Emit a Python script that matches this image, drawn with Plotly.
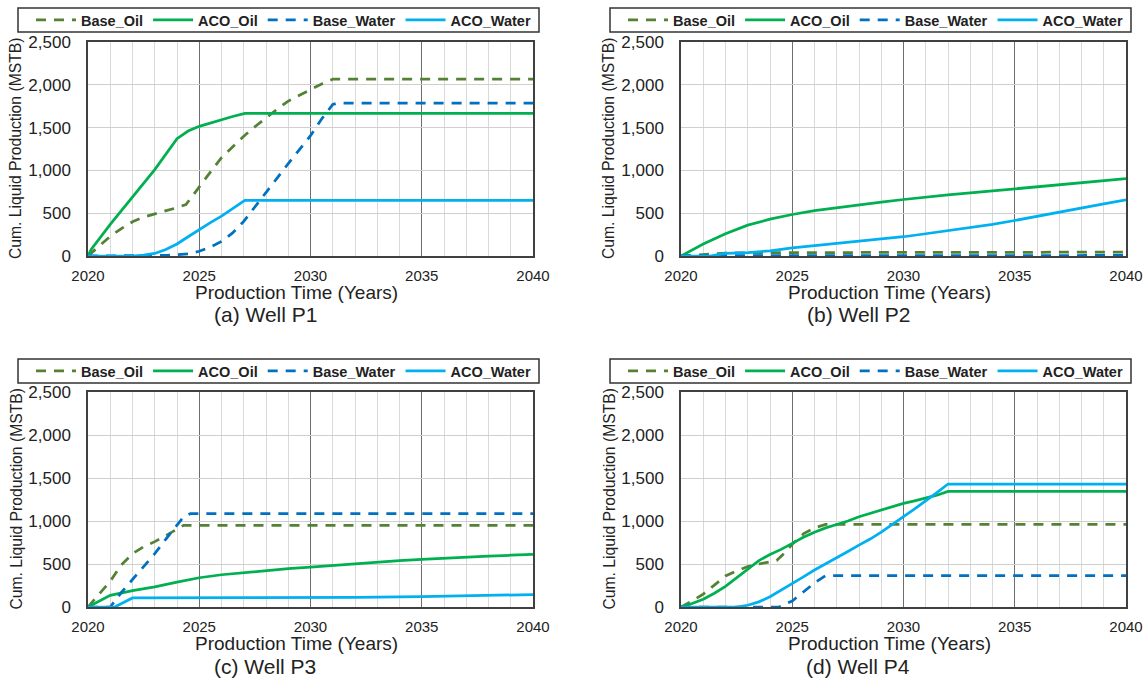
import plotly.graph_objects as go

W, H = 1148, 678

# ---------------- data (years, MSTB) ----------------
series_names = ["Base_Oil", "ACO_Oil", "Base_Water", "ACO_Water"]
panel_captions = ["(a) Well P1", "(b) Well P2", "(c) Well P3", "(d) Well P4"]
y_title = "Cum. Liquid Production (MSTB)"
x_title = "Production Time (Years)"

# Well P1
p1_base_oil_x = [2020, 2020.5, 2021, 2021.5, 2022, 2022.5, 2023, 2023.5, 2024, 2024.4, 2024.7, 2025, 2025.5, 2026, 2026.5, 2027, 2027.5, 2028, 2028.5, 2029, 2029.5, 2030, 2030.5, 2031, 2040]
p1_base_oil_y = [0, 120, 230, 320, 400, 455, 490, 530, 565, 600, 700, 800, 980, 1150, 1280, 1400, 1510, 1615, 1715, 1810, 1880, 1945, 2010, 2065, 2065]
p1_aco_oil_x = [2020, 2020.15, 2021, 2022, 2023, 2024, 2024.5, 2025, 2025.5, 2026, 2026.5, 2027.05, 2040]
p1_aco_oil_y = [0, 80, 370, 690, 1010, 1370, 1460, 1515, 1555, 1595, 1630, 1665, 1665]
p1_base_water_x = [2020, 2022.8, 2023.5, 2024, 2024.5, 2025, 2025.5, 2026, 2026.5, 2027, 2027.5, 2028, 2028.5, 2029, 2029.5, 2030, 2030.5, 2031, 2031.2, 2040]
p1_base_water_y = [0, 0, 8, 15, 25, 55, 105, 170, 270, 405, 570, 740, 910, 1080, 1245, 1405, 1600, 1770, 1785, 1785]
p1_aco_water_x = [2020, 2022, 2022.5, 2023, 2023.5, 2024, 2024.5, 2025, 2025.5, 2026, 2026.5, 2027.05, 2040]
p1_aco_water_y = [0, 0, 10, 30, 75, 140, 225, 310, 390, 465, 550, 650, 650]

# Well P2
p2_base_oil_x = [2020, 2021, 2022, 2025, 2030, 2040]
p2_base_oil_y = [0, 20, 35, 40, 42, 45]
p2_aco_oil_x = [2020, 2021, 2022, 2023, 2024, 2025, 2026, 2027, 2028, 2029, 2030, 2032, 2034, 2035, 2036, 2038, 2040]
p2_aco_oil_y = [0, 140, 260, 360, 430, 485, 530, 565, 600, 630, 660, 715, 760, 785, 810, 860, 905]
p2_base_water_x = [2020, 2021, 2025, 2030, 2040]
p2_base_water_y = [0, 3, 5, 5, 6]
p2_aco_water_x = [2020, 2021.3, 2022, 2023, 2024, 2025, 2026, 2027, 2028, 2029, 2030, 2031, 2032, 2033, 2034, 2035, 2036, 2037, 2038, 2039, 2040]
p2_aco_water_y = [0, 0, 30, 40, 60, 95, 120, 150, 175, 200, 225, 260, 295, 330, 370, 415, 465, 515, 560, 610, 655]

# Well P3
p3_base_oil_x = [2020, 2020.5, 2021, 2021.5, 2022, 2022.5, 2023, 2023.5, 2024, 2024.3, 2040]
p3_base_oil_y = [0, 150, 300, 490, 620, 700, 760, 830, 905, 950, 950]
p3_aco_oil_x = [2020, 2021, 2022, 2023, 2024, 2025, 2026, 2027, 2028, 2029, 2030, 2031, 2032, 2033, 2034, 2035, 2036, 2037, 2038, 2039, 2040]
p3_aco_oil_y = [0, 135, 190, 235, 290, 340, 375, 400, 425, 445, 465, 485, 505, 525, 540, 555, 570, 580, 592, 602, 612]
p3_base_water_x = [2020, 2021, 2021.5, 2022, 2022.5, 2023, 2023.5, 2024, 2024.3, 2024.6, 2040]
p3_base_water_y = [0, 0, 170, 320, 470, 620, 790, 960, 1050, 1085, 1085]
p3_aco_water_x = [2020, 2021.2, 2022, 2025, 2030, 2032, 2035, 2038, 2040]
p3_aco_water_y = [0, 0, 105, 105, 108, 112, 120, 135, 145]

# Well P4
p4_base_oil_x = [2020, 2020.5, 2021, 2021.5, 2022, 2022.5, 2023, 2023.5, 2024, 2024.3, 2024.7, 2025, 2025.5, 2026, 2026.5, 2040]
p4_base_oil_y = [0, 70, 150, 260, 360, 420, 470, 500, 520, 540, 640, 730, 850, 920, 960, 960]
p4_aco_oil_x = [2020, 2020.5, 2021, 2021.5, 2022, 2022.5, 2023, 2023.5, 2024, 2024.5, 2025, 2025.5, 2026, 2026.5, 2027, 2027.5, 2028, 2028.5, 2029, 2029.5, 2030, 2030.5, 2031, 2031.5, 2032, 2040]
p4_aco_oil_y = [0, 40, 90, 160, 240, 340, 450, 540, 610, 670, 740, 810, 870, 920, 960, 1000, 1050, 1090, 1130, 1170, 1205, 1235, 1265, 1300, 1345, 1345]
p4_base_water_x = [2020, 2024.4, 2025, 2025.5, 2026, 2026.5, 2040]
p4_base_water_y = [0, 0, 70, 170, 280, 365, 365]
p4_aco_water_x = [2020, 2022.5, 2023, 2023.5, 2024, 2024.5, 2025, 2025.5, 2026, 2026.5, 2027, 2027.5, 2028, 2028.5, 2029, 2029.5, 2030, 2030.5, 2031, 2031.5, 2032, 2040]
p4_aco_water_y = [0, 0, 20, 60, 120, 195, 275, 350, 430, 500, 570, 645, 720, 790, 870, 955, 1050, 1140, 1230, 1330, 1430, 1430]

x_ticks = [2020, 2025, 2030, 2035, 2040]
y_ticks = [0, 500, 1000, 1500, 2000, 2500]

panels = [
    [(p1_base_oil_x, p1_base_oil_y), (p1_aco_oil_x, p1_aco_oil_y), (p1_base_water_x, p1_base_water_y), (p1_aco_water_x, p1_aco_water_y)],
    [(p2_base_oil_x, p2_base_oil_y), (p2_aco_oil_x, p2_aco_oil_y), (p2_base_water_x, p2_base_water_y), (p2_aco_water_x, p2_aco_water_y)],
    [(p3_base_oil_x, p3_base_oil_y), (p3_aco_oil_x, p3_aco_oil_y), (p3_base_water_x, p3_base_water_y), (p3_aco_water_x, p3_aco_water_y)],
    [(p4_base_oil_x, p4_base_oil_y), (p4_aco_oil_x, p4_aco_oil_y), (p4_base_water_x, p4_base_water_y), (p4_aco_water_x, p4_aco_water_y)],
]

# ---------------- styles / layout ----------------
FONT = "Liberation Sans, Arial, Helvetica, sans-serif"
styles = [
    dict(color="#548235", width=2.75, dash="10px,8px"),
    dict(color="#00B050", width=2.75, dash="solid"),
    dict(color="#0070C0", width=2.75, dash="10px,8px"),
    dict(color="#00B0F0", width=2.75, dash="solid"),
]

def px(v):
    return v / W

def py(v):
    return 1 - v / H

# plot boxes in pixels: (left, right, top, bottom)
boxes = [(88, 533, 42, 256), (681, 1126, 42, 256), (88, 533, 392, 607), (681, 1126, 392, 607)]
legend_boxes = [(18, 539, 8, 32), (610, 1131, 8, 32), (18, 539, 359, 383), (610, 1131, 359, 383)]

fig = go.Figure()
layout = dict(
    width=W, height=H, margin=dict(l=0, r=0, t=0, b=0, autoexpand=False),
    paper_bgcolor="white", plot_bgcolor="white",
    font=dict(family=FONT, color="#222222"),
    shapes=[], annotations=[],
)

for i, series in enumerate(panels):
    n = "" if i == 0 else str(i + 1)
    leg = "legend" + n
    for j, (xs, ys) in enumerate(series):
        fig.add_trace(go.Scatter(
            x=xs, y=ys, mode="lines", name=series_names[j],
            line=styles[j], xaxis="x" + n, yaxis="y" + n, legend=leg,
            showlegend=True, hoverinfo="skip",
        ))
    l, r, t, b = boxes[i]
    layout["xaxis" + n] = dict(
        domain=[px(l), px(r)], anchor="y" + n, range=[2020, 2040], automargin=False,
        tickvals=x_ticks, showgrid=True, gridcolor="#6e6e6e", gridwidth=1,
        minor=dict(dtick=1, tick0=2020, showgrid=True, gridcolor="#d9d9d9", gridwidth=1),
        showline=True, mirror=True, linecolor="#404040", linewidth=1.5,
        zeroline=False, ticks="", tickfont=dict(size=15, color="#222222", family=FONT),
        ticklabelstandoff=5, fixedrange=True,
    )
    layout["yaxis" + n] = dict(
        domain=[py(b), py(t)], anchor="x" + n, range=[0, 2500], automargin=False,
        tickvals=y_ticks, tickformat=",", showgrid=True, gridcolor="#cfcfcf", gridwidth=1,
        showline=True, mirror=True, linecolor="#404040", linewidth=1.5,
        zeroline=False, ticks="", tickfont=dict(size=17, color="#222222", family=FONT),
        ticklabelstandoff=12, fixedrange=True,
    )
    lx0, lx1, ly0, ly1 = legend_boxes[i]
    layout[leg] = dict(
        orientation="h", x=px(lx0 + 13), xanchor="left", y=py((ly0 + ly1) / 2), yanchor="middle",
        bgcolor="rgba(0,0,0,0)", borderwidth=0, itemwidth=40,
        font=dict(family=FONT, size=14.5, color="#222222", weight="bold"),
        itemclick=False, itemdoubleclick=False,
    )
    layout["shapes"].append(dict(
        type="rect", xref="paper", yref="paper",
        x0=px(lx0), x1=px(lx1), y0=py(ly1), y1=py(ly0),
        line=dict(color="#333333", width=1.5), fillcolor="rgba(0,0,0,0)", layer="above",
    ))
    # axis titles and caption
    layout["annotations"].append(dict(
        text=y_title, textangle=-90, xref="paper", yref="paper",
        x=px(l - 72), y=py((t + b) / 2), xanchor="center", yanchor="middle",
        showarrow=False, font=dict(size=15.7, color="#222222", family=FONT),
    ))
    layout["annotations"].append(dict(
        text=x_title, xref="paper", yref="paper",
        x=px(l + 208), y=py(b + 36), xanchor="center", yanchor="middle",
        showarrow=False, font=dict(size=19, color="#222222", family=FONT),
    ))
    layout["annotations"].append(dict(
        text=panel_captions[i], xref="paper", yref="paper",
        x=px(l + 177), y=py(b + 59), xanchor="center", yanchor="middle",
        showarrow=False, font=dict(size=21, color="#222222", family=FONT),
    ))

fig.update_layout(**layout)
fig.write_html("out.html", config={"displayModeBar": False},
               post_script="document.body.style.margin='0';")
